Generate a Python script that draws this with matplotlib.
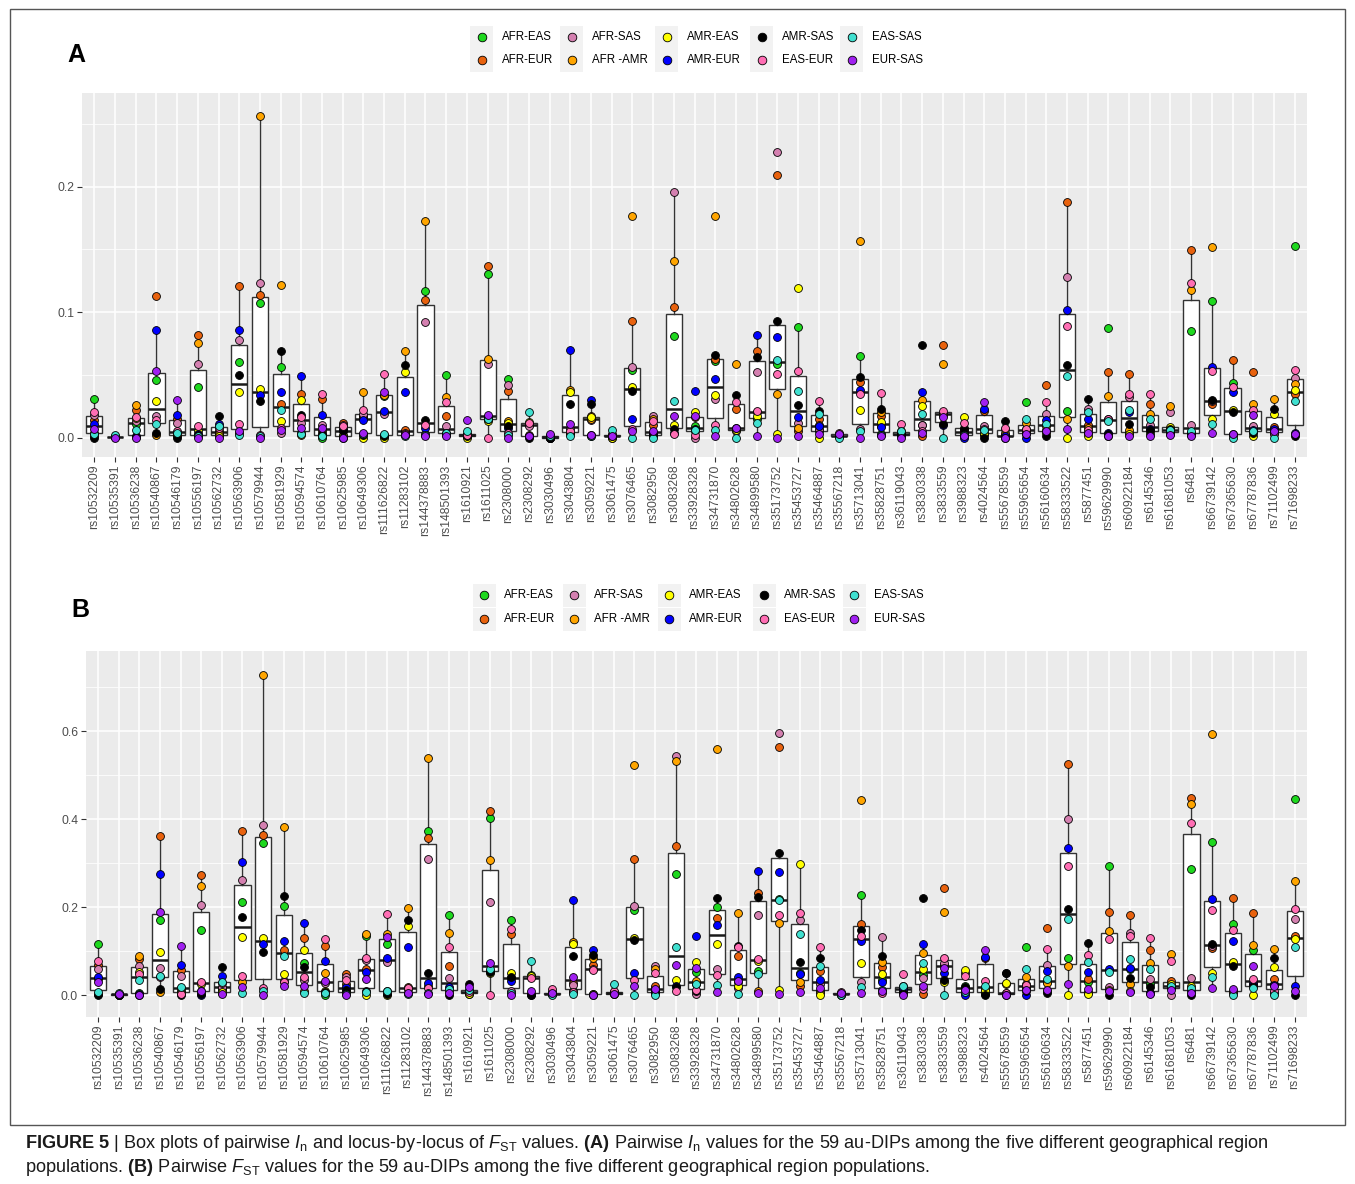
import numpy as np
import matplotlib.pyplot as plt
from matplotlib.lines import Line2D
from matplotlib.patches import Rectangle

plt.rcParams['font.family'] = ['Liberation Sans', 'DejaVu Sans']
plt.rcParams['mathtext.fontset'] = 'custom'
plt.rcParams['mathtext.rm'] = 'Liberation Sans'
plt.rcParams['mathtext.it'] = 'Liberation Sans:italic'
plt.rcParams['mathtext.bf'] = 'Liberation Sans:bold'

loci = ['rs10532209', 'rs10535391', 'rs10536238', 'rs10540867', 'rs10546179', 'rs10556197',
        'rs10562732', 'rs10563906', 'rs10579944', 'rs10581929', 'rs10594574', 'rs10610764',
        'rs10625985', 'rs10649306', 'rs111626822', 'rs11283102', 'rs144378883', 'rs148501393',
        'rs1610921', 'rs1611025', 'rs2308000', 'rs2308292', 'rs3030496', 'rs3043804',
        'rs3059221', 'rs3061475', 'rs3076465', 'rs3082950', 'rs3083268', 'rs33928328',
        'rs34731870', 'rs34802628', 'rs34899580', 'rs35173752', 'rs35453727', 'rs35464887',
        'rs35567218', 'rs35713041', 'rs35828751', 'rs36119043', 'rs3830338', 'rs3833559',
        'rs3988323', 'rs4024564', 'rs55678559', 'rs55965654', 'rs56160634', 'rs58333522',
        'rs5877451', 'rs59629990', 'rs60922184', 'rs6145346', 'rs61681053', 'rs6481',
        'rs66739142', 'rs67365630', 'rs67787836', 'rs71102499', 'rs71698233']

pairs = ['AFR-EAS', 'AFR-EUR', 'AFR-SAS', 'AFR -AMR', 'AMR-EAS',
         'AMR-EUR', 'AMR-SAS', 'EAS-EUR', 'EAS-SAS', 'EUR-SAS']
pair_colors = ['#1ED81E', '#E8620E', '#D480B0', '#FFA500', '#FFFF00',
               '#0000FF', '#000000', '#FF6EB4', '#40E0D0', '#A020F0']

# (A) pairwise In, one list per population pair, in locus order
in_afr_eas = [0.031, 0.001, 0.011, 0.046, 0.003, 0.040, 0.002, 0.060, 0.107, 0.056,
              0.004, 0.000, 0.001, 0.016, 0.033, 0.002, 0.117, 0.050, 0.002, 0.130,
              0.047, 0.010, 0.000, 0.004, 0.001, 0.001, 0.054, 0.002, 0.081, 0.009,
              0.061, 0.007, 0.015, 0.059, 0.088, 0.005, 0.001, 0.065, 0.003, 0.002,
              0.010, 0.019, 0.004, 0.003, 0.001, 0.0286, 0.006, 0.021, 0.004, 0.087,
              0.004, 0.003, 0.005, 0.085, 0.1085, 0.0437, 0.005, 0.004, 0.1524]
in_afr_eur = [0.014, 0.0005, 0.022, 0.113, 0.015, 0.082, 0.005, 0.121, 0.114, 0.027,
              0.035, 0.031, 0.012, 0.017, 0.002, 0.006, 0.110, 0.017, 0.001, 0.137,
              0.037, 0.011, 0.001, 0.003, 0.017, 0.000, 0.093, 0.010, 0.104, 0.016,
              0.063, 0.0225, 0.069, 0.209, 0.005, 0.015, 0.001, 0.044, 0.017, 0.003,
              0.001, 0.0735, 0.005, 0.021, 0.002, 0.004, 0.042, 0.188, 0.010, 0.052,
              0.051, 0.027, 0.004, 0.1495, 0.027, 0.062, 0.052, 0.0087, 0.035]
in_afr_sas = [0.018, 0.0003, 0.013, 0.017, 0.012, 0.059, 0.004, 0.078, 0.123, 0.004,
              0.012, 0.010, 0.010, 0.019, 0.019, 0.004, 0.092, 0.009, 0.003, 0.059,
              0.042, 0.0095, 0.000, 0.007, 0.014, 0.001, 0.056, 0.017, 0.196, 0.000,
              0.031, 0.005, 0.052, 0.228, 0.012, 0.007, 0.003, 0.007, 0.009, 0.004,
              0.010, 0.019, 0.008, 0.009, 0.001, 0.007, 0.0185, 0.128, 0.023, 0.015,
              0.032, 0.010, 0.020, 0.010, 0.029, 0.003, 0.0095, 0.006, 0.0476]
in_afr_amr = [0.004, 0.0004, 0.026, 0.002, 0.002, 0.075, 0.003, 0.004, 0.256, 0.122,
              0.002, 0.005, 0.007, 0.036, 0.034, 0.069, 0.173, 0.032, 0.001, 0.063,
              0.013, 0.002, 0.001, 0.038, 0.015, 0.001, 0.177, 0.015, 0.141, 0.005,
              0.177, 0.059, 0.020, 0.035, 0.008, 0.010, 0.002, 0.157, 0.020, 0.005,
              0.030, 0.059, 0.003, 0.002, 0.004, 0.0114, 0.009, 0.015, 0.008, 0.033,
              0.006, 0.0185, 0.025, 0.1177, 0.1516, 0.002, 0.0267, 0.0307, 0.043]
in_amr_eas = [0.001, 0.0002, 0.0155, 0.029, 0.001, 0.005, 0.001, 0.036, 0.039, 0.013,
              0.030, 0.002, 0.002, 0.000, 0.000, 0.052, 0.003, 0.003, 0.000, 0.013,
              0.012, 0.0127, 0.000, 0.036, 0.016, 0.000, 0.040, 0.003, 0.010, 0.0206,
              0.034, 0.006, 0.017, 0.003, 0.119, 0.000, 0.001, 0.022, 0.0127, 0.001,
              0.025, 0.018, 0.016, 0.004, 0.0066, 0.005, 0.004, 0.000, 0.001, 0.001,
              0.003, 0.005, 0.0087, 0.003, 0.015, 0.022, 0.001, 0.0185, 0.038]
in_amr_eur = [0.011, 0.0003, 0.001, 0.086, 0.018, 0.003, 0.011, 0.086, 0.034, 0.036,
              0.049, 0.018, 0.006, 0.014, 0.021, 0.036, 0.008, 0.004, 0.002, 0.016,
              0.008, 0.001, 0.000, 0.070, 0.030, 0.001, 0.0146, 0.004, 0.004, 0.037,
              0.047, 0.008, 0.082, 0.080, 0.016, 0.009, 0.002, 0.038, 0.0087, 0.002,
              0.0365, 0.010, 0.000, 0.023, 0.001, 0.000, 0.014, 0.102, 0.0146, 0.004,
              0.020, 0.007, 0.006, 0.004, 0.056, 0.0365, 0.006, 0.007, 0.004]
in_amr_sas = [0.000, 0.0002, 0.0005, 0.004, 0.000, 0.002, 0.017, 0.050, 0.029, 0.069,
              0.018, 0.003, 0.005, 0.002, 0.001, 0.058, 0.014, 0.002, 0.001, 0.015,
              0.009, 0.000, 0.000, 0.027, 0.027, 0.002, 0.037, 0.001, 0.007, 0.007,
              0.066, 0.034, 0.064, 0.093, 0.026, 0.021, 0.001, 0.048, 0.023, 0.003,
              0.0735, 0.0106, 0.0066, 0.000, 0.013, 0.003, 0.001, 0.058, 0.0307, 0.003,
              0.0106, 0.006, 0.007, 0.002, 0.030, 0.020, 0.004, 0.023, 0.001]
in_eas_eur = [0.020, 0.0004, 0.016, 0.014, 0.005, 0.009, 0.008, 0.011, 0.002, 0.008,
              0.016, 0.035, 0.009, 0.022, 0.051, 0.003, 0.010, 0.028, 0.002, 0.000,
              0.004, 0.012, 0.001, 0.005, 0.002, 0.003, 0.007, 0.013, 0.003, 0.002,
              0.010, 0.028, 0.021, 0.051, 0.053, 0.029, 0.004, 0.035, 0.0357, 0.011,
              0.005, 0.021, 0.0114, 0.007, 0.008, 0.007, 0.0286, 0.089, 0.006, 0.0148,
              0.035, 0.035, 0.003, 0.1235, 0.053, 0.040, 0.022, 0.003, 0.054]
in_eas_sas = [0.003, 0.002, 0.006, 0.011, 0.004, 0.001, 0.009, 0.002, 0.001, 0.022,
              0.003, 0.001, 0.000, 0.003, 0.003, 0.001, 0.002, 0.004, 0.005, 0.015,
              0.002, 0.020, 0.001, 0.001, 0.001, 0.006, 0.000, 0.000, 0.029, 0.006,
              0.006, 0.000, 0.012, 0.062, 0.037, 0.0185, 0.000, 0.005, 0.002, 0.005,
              0.019, 0.000, 0.002, 0.006, 0.000, 0.015, 0.0106, 0.049, 0.020, 0.0132,
              0.022, 0.015, 0.006, 0.005, 0.0106, 0.000, 0.0053, 0.000, 0.029]
in_eur_sas = [0.007, 0.000, 0.000, 0.053, 0.030, 0.000, 0.000, 0.005, 0.000, 0.006,
              0.008, 0.008, 0.000, 0.004, 0.036, 0.002, 0.001, 0.001, 0.014, 0.018,
              0.000, 0.001, 0.003, 0.0106, 0.002, 0.001, 0.005, 0.005, 0.017, 0.017,
              0.001, 0.008, 0.001, 0.000, 0.001, 0.003, 0.003, 0.000, 0.001, 0.000,
              0.004, 0.0167, 0.001, 0.028, 0.000, 0.003, 0.005, 0.0066, 0.004, 0.001,
              0.001, 0.001, 0.002, 0.001, 0.004, 0.003, 0.018, 0.005, 0.003]

# (B) pairwise FST
fst_afr_eas = [0.1155, 0.002, 0.005, 0.170, 0.008, 0.147, 0.012, 0.211, 0.345, 0.202,
               0.0717, 0.000, 0.005, 0.134, 0.117, 0.005, 0.372, 0.183, 0.005, 0.402,
               0.170, 0.045, 0.002, 0.010, 0.003, 0.004, 0.194, 0.015, 0.275, 0.053,
               0.200, 0.030, 0.055, 0.218, 0.050, 0.010, 0.002, 0.228, 0.035, 0.010,
               0.045, 0.068, 0.020, 0.005, 0.002, 0.108, 0.030, 0.083, 0.030, 0.294,
               0.058, 0.025, 0.022, 0.287, 0.347, 0.161, 0.103, 0.025, 0.445]
fst_afr_eur = [0.068, 0.001, 0.081, 0.361, 0.057, 0.273, 0.016, 0.372, 0.364, 0.103,
               0.130, 0.111, 0.047, 0.060, 0.010, 0.018, 0.356, 0.066, 0.006, 0.419,
               0.138, 0.042, 0.003, 0.028, 0.068, 0.003, 0.309, 0.020, 0.338, 0.025,
               0.174, 0.088, 0.2325, 0.564, 0.021, 0.054, 0.003, 0.161, 0.064, 0.015,
               0.003, 0.244, 0.004, 0.083, 0.003, 0.025, 0.152, 0.5245, 0.0355, 0.189,
               0.181, 0.102, 0.0325, 0.447, 0.106, 0.220, 0.186, 0.036, 0.1336]
fst_afr_sas = [0.058, 0.002, 0.066, 0.062, 0.044, 0.204, 0.019, 0.262, 0.386, 0.032,
               0.035, 0.027, 0.040, 0.080, 0.074, 0.014, 0.309, 0.038, 0.004, 0.211,
               0.010, 0.040, 0.006, 0.0226, 0.060, 0.005, 0.202, 0.066, 0.543, 0.002,
               0.060, 0.015, 0.183, 0.596, 0.170, 0.026, 0.004, 0.030, 0.132, 0.020,
               0.039, 0.0717, 0.050, 0.014, 0.004, 0.019, 0.069, 0.400, 0.006, 0.019,
               0.140, 0.036, 0.000, 0.039, 0.111, 0.005, 0.028, 0.005, 0.172]
fst_afr_amr = [0.037, 0.001, 0.088, 0.006, 0.015, 0.2475, 0.004, 0.030, 0.727, 0.383,
               0.010, 0.050, 0.025, 0.138, 0.138, 0.198, 0.538, 0.140, 0.002, 0.308,
               0.038, 0.003, 0.004, 0.121, 0.085, 0.002, 0.522, 0.058, 0.532, 0.032,
               0.5585, 0.186, 0.010, 0.164, 0.030, 0.004, 0.002, 0.444, 0.076, 0.012,
               0.0966, 0.189, 0.012, 0.002, 0.026, 0.040, 0.028, 0.066, 0.004, 0.146,
               0.026, 0.0717, 0.094, 0.434, 0.5925, 0.008, 0.1147, 0.1057, 0.260]
fst_amr_eas = [0.003, 0.001, 0.053, 0.098, 0.005, 0.024, 0.006, 0.132, 0.130, 0.047,
               0.102, 0.010, 0.008, 0.000, 0.000, 0.156, 0.020, 0.010, 0.003, 0.049,
               0.0506, 0.044, 0.002, 0.117, 0.002, 0.006, 0.130, 0.005, 0.034, 0.0755,
               0.1155, 0.020, 0.077, 0.011, 0.298, 0.000, 0.001, 0.073, 0.047, 0.006,
               0.060, 0.030, 0.0566, 0.011, 0.028, 0.015, 0.010, 0.000, 0.002, 0.012,
               0.010, 0.004, 0.025, 0.020, 0.050, 0.0755, 0.000, 0.064, 0.127]
fst_amr_eur = [0.0415, 0.001, 0.003, 0.275, 0.069, 0.000, 0.043, 0.303, 0.1155, 0.122,
               0.164, 0.077, 0.019, 0.053, 0.0845, 0.108, 0.028, 0.018, 0.008, 0.055,
               0.0325, 0.000, 0.003, 0.2166, 0.103, 0.004, 0.0506, 0.010, 0.020, 0.1336,
               0.1585, 0.040, 0.283, 0.279, 0.047, 0.034, 0.002, 0.122, 0.030, 0.014,
               0.1155, 0.050, 0.000, 0.087, 0.051, 0.000, 0.055, 0.3336, 0.053, 0.060,
               0.062, 0.005, 0.018, 0.010, 0.219, 0.122, 0.024, 0.023, 0.020]
fst_amr_sas = [0.000, 0.001, 0.001, 0.013, 0.000, 0.003, 0.064, 0.177, 0.098, 0.225,
               0.0626, 0.0075, 0.011, 0.009, 0.003, 0.170, 0.049, 0.000, 0.025, 0.053,
               0.041, 0.001, 0.002, 0.088, 0.0905, 0.007, 0.1245, 0.006, 0.019, 0.008,
               0.220, 0.111, 0.2226, 0.323, 0.074, 0.083, 0.001, 0.147, 0.088, 0.004,
               0.220, 0.034, 0.019, 0.000, 0.049, 0.010, 0.005, 0.196, 0.119, 0.000,
               0.039, 0.019, 0.015, 0.000, 0.115, 0.066, 0.020, 0.083, 0.000]
fst_eas_eur = [0.078, 0.002, 0.048, 0.040, 0.003, 0.030, 0.027, 0.043, 0.015, 0.030,
               0.040, 0.127, 0.035, 0.083, 0.185, 0.015, 0.015, 0.108, 0.007, 0.000,
               0.149, 0.039, 0.013, 0.007, 0.0566, 0.010, 0.035, 0.050, 0.008, 0.011,
               0.045, 0.108, 0.081, 0.181, 0.186, 0.108, 0.006, 0.1336, 0.004, 0.047,
               0.013, 0.083, 0.043, 0.0325, 0.005, 0.0226, 0.1057, 0.294, 0.0906, 0.127,
               0.134, 0.130, 0.078, 0.391, 0.194, 0.147, 0.036, 0.010, 0.196]
fst_eas_sas = [0.006, 0.005, 0.034, 0.043, 0.019, 0.010, 0.030, 0.005, 0.010, 0.088,
               0.005, 0.004, 0.002, 0.0075, 0.009, 0.002, 0.005, 0.014, 0.011, 0.060,
               0.005, 0.078, 0.001, 0.002, 0.001, 0.024, 0.000, 0.000, 0.109, 0.026,
               0.0226, 0.002, 0.047, 0.215, 0.138, 0.066, 0.000, 0.019, 0.011, 0.021,
               0.0717, 0.000, 0.006, 0.021, 0.001, 0.060, 0.0355, 0.172, 0.0755, 0.053,
               0.0815, 0.058, 0.020, 0.015, 0.0415, 0.000, 0.017, 0.000, 0.109]
fst_eur_sas = [0.030, 0.003, 0.000, 0.189, 0.111, 0.008, 0.002, 0.019, 0.000, 0.021,
               0.020, 0.0325, 0.000, 0.036, 0.132, 0.004, 0.002, 0.004, 0.019, 0.072,
               0.000, 0.008, 0.004, 0.040, 0.001, 0.002, 0.021, 0.013, 0.068, 0.062,
               0.006, 0.0325, 0.004, 0.002, 0.006, 0.015, 0.005, 0.004, 0.008, 0.000,
               0.020, 0.062, 0.011, 0.103, 0.000, 0.011, 0.012, 0.025, 0.013, 0.009,
               0.006, 0.002, 0.011, 0.005, 0.017, 0.013, 0.066, 0.021, 0.009]

in_series = [in_afr_eas, in_afr_eur, in_afr_sas, in_afr_amr, in_amr_eas,
             in_amr_eur, in_amr_sas, in_eas_eur, in_eas_sas, in_eur_sas]
fst_series = [fst_afr_eas, fst_afr_eur, fst_afr_sas, fst_afr_amr, fst_amr_eas,
              fst_amr_eur, fst_amr_sas, fst_eas_eur, fst_eas_sas, fst_eur_sas]

W, H = 1355, 1184
fig = plt.figure(figsize=(W / 100, H / 100), dpi=100)


def px(x, y):
    return x / W, 1 - y / H


def panel(rect, series, ylim, major, minor):
    l, t, r, b = rect
    ax = fig.add_axes([l / W, 1 - b / H, (r - l) / W, (b - t) / H])
    ax.set_facecolor('#EBEBEB')
    xs = np.arange(1, len(loci) + 1)
    table = np.column_stack(series)
    ax.boxplot([table[i] for i in range(len(loci))], positions=xs, widths=0.78,
               showfliers=False, showcaps=False, patch_artist=True, zorder=2,
               boxprops=dict(facecolor='white', edgecolor='#333333', linewidth=1.0),
               medianprops=dict(color='#1a1a1a', linewidth=1.8),
               whiskerprops=dict(color='#333333', linewidth=1.0))
    for vals, col in zip(series, pair_colors):
        ax.scatter(xs, vals, s=32, c=col, edgecolors='black', linewidths=0.6, zorder=3)
    ax.set_xlim(0.4, len(loci) + 0.6)
    ax.set_ylim(*ylim)
    ax.set_yticks(major)
    ax.set_yticklabels([f'{v:.1f}' for v in major])
    ax.set_yticks(minor, minor=True)
    ax.set_xticks(xs)
    ax.set_xticklabels(loci, rotation=90)
    ax.set_axisbelow(True)
    ax.grid(which='major', color='white', linewidth=1.1)
    ax.grid(which='minor', axis='y', color='white', linewidth=0.55)
    for s in ax.spines.values():
        s.set_visible(False)
    ax.tick_params(which='major', length=3.5, width=0.8, color='#333333',
                   labelsize=8.7, labelcolor='#4D4D4D', pad=2)
    ax.tick_params(which='minor', length=0)
    return ax


panel((82, 92.7, 1307, 457), in_series, (-0.0155, 0.2749),
      [0.0, 0.1, 0.2], [0.05, 0.15, 0.25])
panel((85.7, 651, 1307, 1017), fst_series, (-0.05, 0.782),
      [0.0, 0.2, 0.4, 0.6], [0.1, 0.3, 0.5, 0.7])


def legend(dx, ys):
    cols = [481.7, 571.7, 666.7, 761.7, 851.7]
    for i, (name, col) in enumerate(zip(pairs, pair_colors)):
        cx = cols[i // 2] + dx
        cy = ys[i % 2]
        x0, y0 = px(cx - 11.5, cy + 11.5)
        fig.add_artist(Rectangle((x0, y0), 23 / W, 23 / H, transform=fig.transFigure,
                                 facecolor='#F2F2F2', edgecolor='none'))
        fig.add_artist(Line2D([cx / W], [1 - cy / H], marker='o', markersize=6.2,
                              markerfacecolor=col, markeredgecolor='black',
                              markeredgewidth=0.6, transform=fig.transFigure))
        fig.text(*px(cx + 20, cy), name, fontsize=8.3, va='center', ha='left')


legend(0, [37, 60])
legend(2.5, [595, 619])

fig.text(*px(76, 55), 'A', fontsize=18, fontweight='bold', ha='center', va='center')
fig.text(*px(80, 610), 'B', fontsize=18, fontweight='bold', ha='center', va='center')

fig.add_artist(Rectangle(px(9.5, 1125), (1345 - 9.5) / W, (1125 - 8.5) / H,
                         transform=fig.transFigure, facecolor='none',
                         edgecolor='#555555', linewidth=1.0))

cap1 = (r"$\mathbf{FIGURE\ 5}$ | Box plots of pairwise $I_\mathrm{n}$ and locus-by-locus of "
        r"$F_\mathrm{ST}$ values. $\mathbf{(A)}$ Pairwise $I_\mathrm{n}$ values for the 59 "
        r"au-DIPs among the five different geographical region")
cap2 = (r"populations. $\mathbf{(B)}$ Pairwise $F_\mathrm{ST}$ values for the 59 au-DIPs "
        r"among the five different geographical region populations.")
fig.text(*px(25, 1143), cap1, fontsize=13.1, va='center', ha='left', color='#1a1a1a')
fig.text(*px(25, 1168), cap2, fontsize=13.1, va='center', ha='left', color='#1a1a1a')

fig.savefig('out.png', dpi=100)
